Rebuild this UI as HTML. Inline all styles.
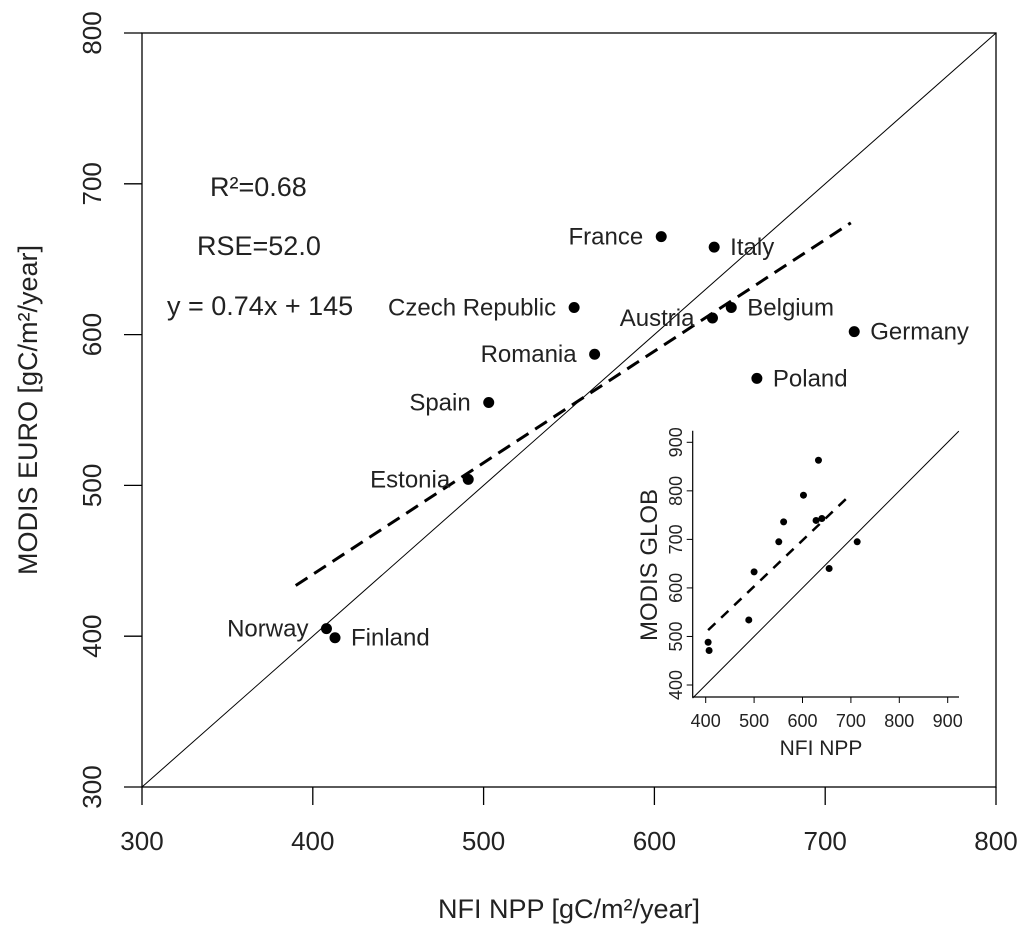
<!DOCTYPE html>
<html><head><meta charset="utf-8"><style>
body{margin:0;background:#fff}
svg text{font-family:"Liberation Sans",Arial,sans-serif;fill:#222}
</style></head><body>
<svg id="c" width="1024" height="935" xmlns="http://www.w3.org/2000/svg"></svg>
<script>
const countries=["France","Italy","Czech Republic","Austria","Belgium","Germany","Romania","Poland","Spain","Estonia","Norway","Finland"];
const nfiNpp=[604,635,553,634,645,717,565,660,503,491,408,413];
const modisEuro=[665,658,618,611,618,602,587,571,555,504,405,399];
const labelSide=["l","r","l","l","r","r","l","r","l","l","l","r"];
const mainTicks=[300,400,500,600,700,800];
const fitLine=[390,715];
const fitSlope=0.74, fitIntercept=145;
const insetX=[405,407,489,500,551,561,602,633,628,640,655,713];
const insetY=[488,471,534,633,695,736,791,863,739,743,640,695];
const insetTicks=[400,500,600,700,800,900];
const insetFitX=[405,698];
const insetFitY=[513,791];

const svg=document.getElementById('c');
const NS='http://www.w3.org/2000/svg';
function mk(t,a,p){const e=document.createElementNS(NS,t);for(const k in a)e.setAttribute(k,a[k]);(p||svg).appendChild(e);return e;}
const X=v=>142+(v-300)*854/500, Y=v=>787-(v-300)*754/500;
let e;
e=mk('rect',{x:142,y:33,width:854,height:754,fill:'none',stroke:'#000','stroke-width':1.3});


mainTicks.forEach(t=>{
  e=mk('line',{x1:X(t),x2:X(t),y1:787,y2:805,stroke:'#000','stroke-width':1.3});
  
  
  e=mk('text',{x:X(t),y:850,'text-anchor':'middle','font-size':26});e.textContent=t;
  
  
  e=mk('line',{x1:124,x2:142,y1:Y(t),y2:Y(t),stroke:'#000','stroke-width':1.3});
  
  
  e=mk('text',{x:0,y:0,'text-anchor':'middle','font-size':26,transform:`translate(101,${Y(t)}) rotate(-90)`});e.textContent=t;
  
  
});
e=mk('text',{x:569,y:918,'text-anchor':'middle','font-size':27});e.textContent='NFI NPP [gC/m²/year]';


e=mk('text',{x:0,y:0,'text-anchor':'middle','font-size':27,transform:'translate(37,410) rotate(-90)'});e.textContent='MODIS EURO [gC/m²/year]';


e=mk('line',{x1:X(300),y1:Y(300),x2:X(800),y2:Y(800),stroke:'#000','stroke-width':1});


e=mk('line',{x1:X(fitLine[0]),y1:Y(fitIntercept+fitSlope*fitLine[0]),x2:X(fitLine[1]),y2:Y(fitIntercept+fitSlope*fitLine[1]),stroke:'#000','stroke-width':3,'stroke-dasharray':'14 8'});


countries.forEach((c,i)=>{
  const cx=X(nfiNpp[i]),cy=Y(modisEuro[i]);
  e=mk('circle',{cx,cy,r:5.5,fill:'#000'});
  
  
  const r=labelSide[i]==='r';
  e=mk('text',{x:r?cx+16:cx-18,y:cy+8,'text-anchor':r?'start':'end','font-size':24});e.textContent=c;
  
  
});
[['R²=0.68',210,196],['RSE=52.0',197,255],['y = 0.74x + 145',167,315]].forEach(a=>{
  e=mk('text',{x:a[1],y:a[2],'font-size':27});e.textContent=a[0];
  
  
});
// inset
const IX=v=>705.7+(v-400)*0.484, IY=v=>685-(v-400)*0.4854;
const g=mk('g',{});


e=mk('path',{d:`M692.7,430.7 V697 H959`,fill:'none',stroke:'#000','stroke-width':1.2},g);


insetTicks.forEach(t=>{
  e=mk('line',{x1:IX(t),x2:IX(t),y1:697,y2:703,stroke:'#000'},g);
  
  
  e=mk('text',{x:IX(t),y:727,'text-anchor':'middle','font-size':18},g);e.textContent=t;
  
  
  e=mk('line',{x1:686.7,x2:692.7,y1:IY(t),y2:IY(t),stroke:'#000'},g);
  
  
  e=mk('text',{x:0,y:0,'text-anchor':'middle','font-size':18,transform:`translate(682,${IY(t)}) rotate(-90)`},g);e.textContent=t;
  
  
});
e=mk('text',{x:821,y:755,'text-anchor':'middle','font-size':21},g);e.textContent='NFI NPP';


e=mk('text',{x:0,y:0,'text-anchor':'middle','font-size':24,transform:'translate(657,565) rotate(-90)'},g);e.textContent='MODIS GLOB';


e=mk('line',{x1:IX(373),y1:IY(373),x2:IX(923),y2:IY(923),stroke:'#000','stroke-width':1},g);


e=mk('line',{x1:IX(insetFitX[0]),y1:IY(insetFitY[0]),x2:IX(insetFitX[1]),y2:IY(insetFitY[1]),stroke:'#000','stroke-width':2.5,'stroke-dasharray':'10 8'},g);


insetX.forEach((v,i)=>{
  e=mk('circle',{cx:IX(v),cy:IY(insetY[i]),r:3.5,fill:'#000'},g);
  
  
});
</script>
</body></html>
